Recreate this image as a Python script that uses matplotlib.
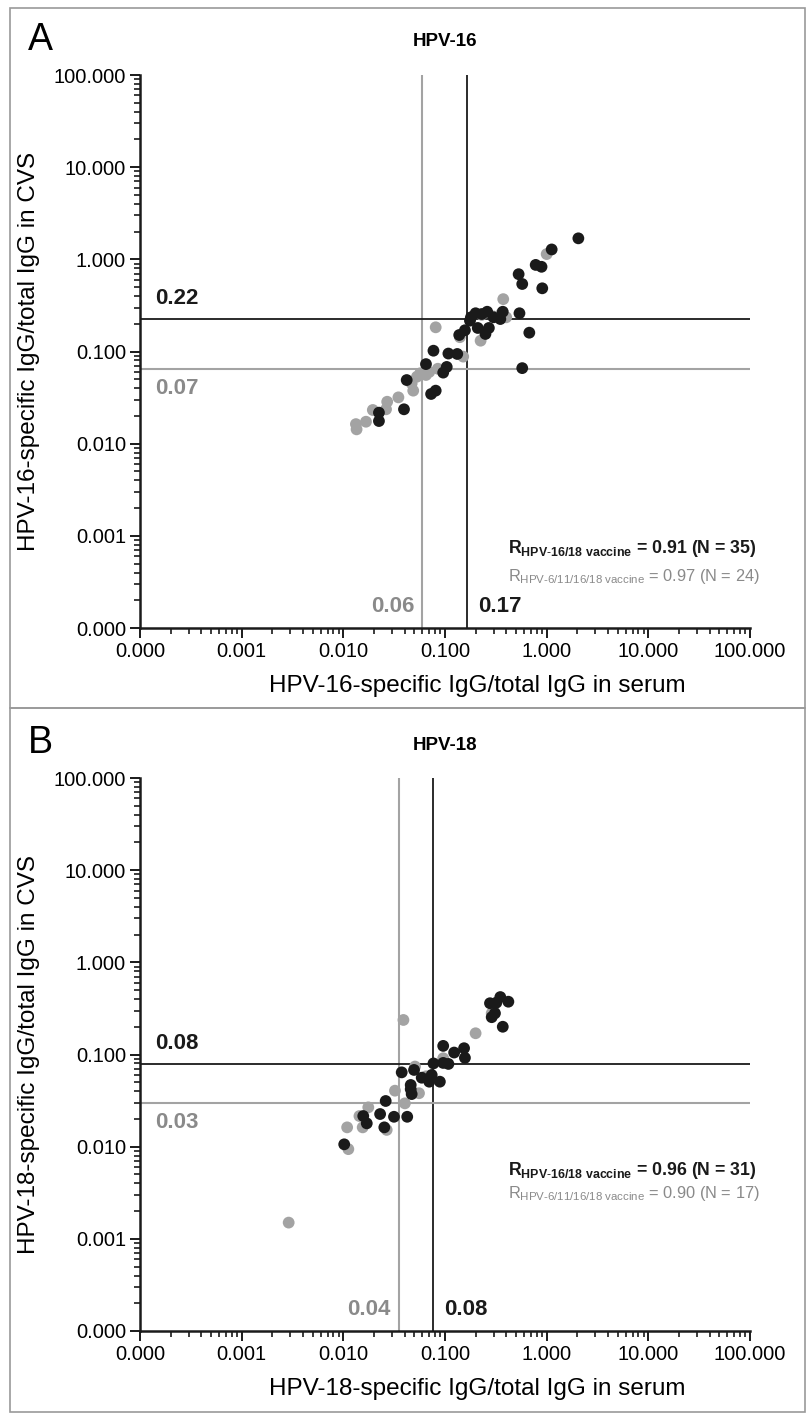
import matplotlib
matplotlib.use("Agg")
import matplotlib.pyplot as plt
from matplotlib.patches import Rectangle
from matplotlib.ticker import FixedLocator, FixedFormatter, LogLocator, NullFormatter

plt.rcParams["font.family"] = ["Liberation Sans", "DejaVu Sans"]
plt.rcParams["mathtext.fontset"] = "custom"
plt.rcParams["mathtext.rm"] = "Liberation Sans"
plt.rcParams["mathtext.bf"] = "Liberation Sans:bold"
plt.rcParams["mathtext.it"] = "Liberation Sans:italic"

BLACK = "#1a1a1a"
GRAY = "#a3a3a3"

TICKS = [1e-4, 1e-3, 1e-2, 1e-1, 1, 10, 100]
TICK_LABELS = ["0.000", "0.001", "0.010", "0.100", "1.000", "10.000", "100.000"]

# ---- HPV-16 (panel A) ----
a_black_x = [2.05, 1.12, 0.78, 0.89, 0.53, 0.575, 0.905, 0.37, 0.54, 0.26, 0.23, 0.30,
             0.35, 0.18, 0.176, 0.21, 0.27, 0.25, 0.675, 0.157, 0.138, 0.077, 0.108,
             0.132, 0.065, 0.104, 0.096, 0.575, 0.042, 0.081, 0.073, 0.0224, 0.0224,
             0.0395, 0.20]
a_black_y = [1.69, 1.28, 0.87, 0.83, 0.69, 0.54, 0.485, 0.27, 0.26, 0.27, 0.255, 0.235,
             0.225, 0.235, 0.216, 0.18, 0.18, 0.155, 0.16, 0.17, 0.151, 0.102, 0.095,
             0.094, 0.073, 0.068, 0.059, 0.066, 0.049, 0.0376, 0.0346, 0.0217, 0.0176,
             0.0236, 0.26]
a_gray_x = [1.0, 0.374, 0.40, 0.081, 0.14, 0.224, 0.151, 0.057, 0.065, 0.053, 0.0487,
            0.0348, 0.027, 0.0263, 0.0195, 0.0167, 0.0133, 0.0135, 0.23, 0.30, 0.085,
            0.047, 0.07, 0.36]
a_gray_y = [1.14, 0.37, 0.235, 0.183, 0.143, 0.131, 0.088, 0.058, 0.0556, 0.0533, 0.0376,
            0.0318, 0.0285, 0.0236, 0.0232, 0.0173, 0.0163, 0.0143, 0.25, 0.24, 0.065,
            0.045, 0.06, 0.26]

# ---- HPV-18 (panel B) ----
b_black_x = [0.35, 0.277, 0.32, 0.42, 0.31, 0.288, 0.37, 0.096, 0.123, 0.154, 0.157,
             0.077, 0.096, 0.108, 0.0375, 0.0496, 0.059, 0.074, 0.070, 0.089, 0.046,
             0.046, 0.047, 0.0261, 0.023, 0.0157, 0.0315, 0.0425, 0.017, 0.0253, 0.0102]
b_black_y = [0.42, 0.36, 0.365, 0.374, 0.28, 0.254, 0.20, 0.124, 0.105, 0.117, 0.092,
             0.080, 0.081, 0.079, 0.064, 0.068, 0.056, 0.060, 0.0507, 0.0507, 0.0467,
             0.042, 0.0372, 0.0313, 0.0226, 0.0215, 0.0211, 0.0211, 0.0179, 0.0162, 0.0106]
b_gray_x = [0.039, 0.20, 0.288, 0.096, 0.0507, 0.0322, 0.0555, 0.0403, 0.0176, 0.0144,
            0.0109, 0.0155, 0.0267, 0.0112, 0.0029, 0.30, 0.065]
b_gray_y = [0.237, 0.17, 0.28, 0.091, 0.074, 0.0405, 0.038, 0.0295, 0.0267, 0.0215,
            0.0162, 0.0162, 0.0152, 0.0094, 0.0015, 0.30, 0.058]

PANELS = [
    {
        "letter": "A", "title": "HPV-16",
        "xlabel": "HPV-16-specific IgG/total IgG in serum",
        "ylabel": "HPV-16-specific IgG/total IgG in CVS",
        "bx": a_black_x, "by": a_black_y, "gx": a_gray_x, "gy": a_gray_y,
        "vx": (0.06, 0.165), "hy": (0.065, 0.225),
        "vlab": ("0.06", "0.17"), "hlab": ("0.07", "0.22"),
        "r": ("0.91 (N = 35)", "0.97 (N = 24)"),
        "rpos": (0.143, 0.094),
    },
    {
        "letter": "B", "title": "HPV-18",
        "xlabel": "HPV-18-specific IgG/total IgG in serum",
        "ylabel": "HPV-18-specific IgG/total IgG in CVS",
        "bx": b_black_x, "by": b_black_y, "gx": b_gray_x, "gy": b_gray_y,
        "vx": (0.035, 0.077), "hy": (0.03, 0.079),
        "vlab": ("0.04", "0.08"), "hlab": ("0.03", "0.08"),
        "r": ("0.96 (N = 31)", "0.90 (N = 17)"),
        "rpos": (0.291, 0.248),
    },
]

W, H = 807, 1414
fig = plt.figure(figsize=(W / 100, H / 100), dpi=100)

# panel frames (pixel rows)
frames = [(8, 708), (708, 1412)]
for top, bot in frames:
    fig.add_artist(Rectangle((10 / W, 1 - bot / H), (805 - 10) / W, (bot - top) / H,
                             transform=fig.transFigure, fill=False,
                             edgecolor="#9a9a9a", lw=1.2))

ax_tops = [75, 778]
for p, top in zip(PANELS, ax_tops):
    ax = fig.add_axes([140 / W, 1 - (top + 553) / H, 610 / W, 553 / H])
    ax.set_xscale("log")
    ax.set_yscale("log")
    ax.set_xlim(1e-4, 100)
    ax.set_ylim(1e-4, 100)

    ax.scatter(p["gx"], p["gy"], s=72, color=GRAY, edgecolors="none", zorder=3)
    ax.scatter(p["bx"], p["by"], s=72, color=BLACK, edgecolors="none", zorder=4)

    ax.axvline(p["vx"][0], color=GRAY, lw=1.5, zorder=2)
    ax.axvline(p["vx"][1], color=BLACK, lw=1.3, zorder=2)
    ax.axhline(p["hy"][0], color=GRAY, lw=1.5, zorder=2)
    ax.axhline(p["hy"][1], color=BLACK, lw=1.3, zorder=2)

    # threshold labels
    ax.annotate(p["hlab"][1], xy=(0.025, p["hy"][1]), xycoords=("axes fraction", "data"),
                xytext=(0, 7), textcoords="offset points", ha="left", va="bottom",
                fontsize=16, fontweight="bold", color=BLACK)
    ax.annotate(p["hlab"][0], xy=(0.025, p["hy"][0]), xycoords=("axes fraction", "data"),
                xytext=(0, -7), textcoords="offset points", ha="left", va="top",
                fontsize=16, fontweight="bold", color="#8a8a8a")
    ax.annotate(p["vlab"][0], xy=(p["vx"][0], 0.038), xycoords=("data", "axes fraction"),
                xytext=(-6, 0), textcoords="offset points", ha="right", va="center",
                fontsize=16, fontweight="bold", color="#8a8a8a")
    ax.annotate(p["vlab"][1], xy=(p["vx"][1], 0.038), xycoords=("data", "axes fraction"),
                xytext=(8, 0), textcoords="offset points", ha="left", va="center",
                fontsize=16, fontweight="bold", color=BLACK)

    # correlation notes
    ax.text(0.603, p["rpos"][0],
            r"R$_{\mathbf{HPV\text{-}16/18\ vaccine}}$ = " + p["r"][0],
            transform=ax.transAxes, fontsize=12.8, fontweight="bold", color=BLACK,
            ha="left", va="center")
    ax.text(0.603, p["rpos"][1],
            r"R$_{\mathrm{HPV\text{-}6/11/16/18\ vaccine}}$ = " + p["r"][1],
            transform=ax.transAxes, fontsize=11.8, color="#8a8a8a",
            ha="left", va="center")

    for side in ("top", "right"):
        ax.spines[side].set_visible(False)
    for side in ("left", "bottom"):
        ax.spines[side].set_linewidth(1.8)
        ax.spines[side].set_color(BLACK)

    for axis in (ax.xaxis, ax.yaxis):
        axis.set_major_locator(FixedLocator(TICKS))
        axis.set_major_formatter(FixedFormatter(TICK_LABELS))
        axis.set_minor_locator(LogLocator(base=10, subs=range(2, 10), numticks=20))
        axis.set_minor_formatter(NullFormatter())
    ax.tick_params(which="major", direction="out", length=7, width=1.4,
                   labelsize=14.5, color=BLACK, pad=3)
    ax.tick_params(which="minor", direction="out", length=4, width=1.2, color=BLACK)

    ax.set_xlabel(p["xlabel"], fontsize=17.5, labelpad=12)
    ax.xaxis.set_label_coords(0.553, -0.085)
    ax.set_ylabel(p["ylabel"], fontsize=17.5, labelpad=10)

    fig.text(40 / W, 1 - (top - 35) / H, p["letter"], fontsize=27,
             ha="center", va="center")
    fig.text(445 / W, 1 - (top - 33) / H, p["title"], fontsize=13.5,
             fontweight="bold", ha="center", va="center")

fig.savefig("out.png", dpi=100)
